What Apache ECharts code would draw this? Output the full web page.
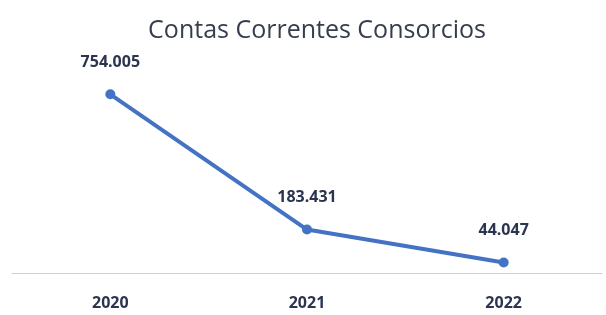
<!DOCTYPE html>
<html>
<head>
<meta charset="utf-8">
<script src="https://cdn.jsdelivr.net/npm/echarts@6/dist/echarts.min.js"></script>
<style>
  html, body { margin: 0; padding: 0; background: #fff; }
  #chart { width: 606px; height: 315px; }
</style>
</head>
<body>
<div id="chart"></div>
<script>
const years = ["2020", "2021", "2022"];
const contas = [754005, 183431, 44047];

function fmt(v) {
  return v.toString().replace(/\B(?=(\d{3})+(?!\d))/g, ".");
}

const chart = echarts.init(document.getElementById("chart"));
chart.setOption({
  backgroundColor: "#ffffff",
  animation: false,
  title: {
    text: "Contas Correntes Consorcios",
    left: 312,
    textAlign: "center",
    top: 13,
    textStyle: {
      fontFamily: "Open Sans, sans-serif",
      fontWeight: "normal",
      fontSize: 25,
      color: "#363d4c",
    },
  },
  grid: { left: 12, right: 4, top: 36, bottom: 42 },
  xAxis: {
    type: "category",
    data: years,
    axisLine: { lineStyle: { color: "#d0d0d0", width: 1 } },
    axisTick: { show: false },
    axisLabel: {
      color: "#2b3550",
      fontWeight: "bold",
      fontSize: 16,
      fontFamily: "Open Sans, sans-serif",
      margin: 22,
    },
  },
  yAxis: {
    type: "value",
    min: 0,
    max: 1000000,
    show: false,
    splitLine: { show: false },
  },
  series: [
    {
      type: "line",
      data: contas,
      symbol: "circle",
      symbolSize: 10,
      lineStyle: { color: "#4472c4", width: 4 },
      itemStyle: { color: "#4472c4" },
      label: {
        show: true,
        position: "top",
        distance: 19,
        formatter: (p) => fmt(p.value),
        color: "#2b3550",
        fontWeight: "bold",
        fontSize: 16,
        fontFamily: "Open Sans, sans-serif",
      },
    },
  ],
});
</script>
</body>
</html>
